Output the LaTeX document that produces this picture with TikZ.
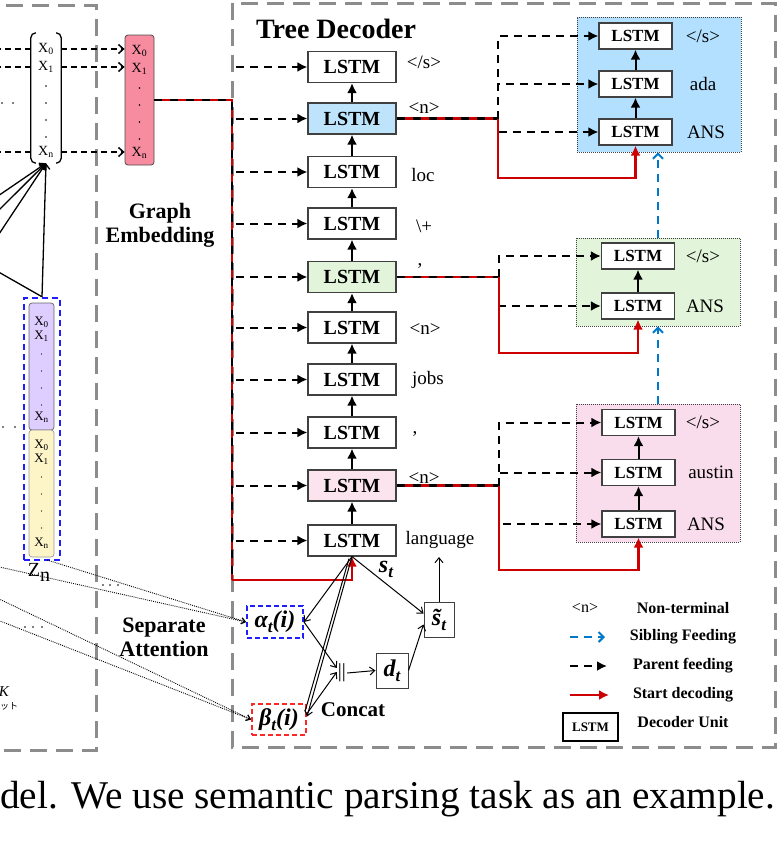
\documentclass[tikz,border=0pt]{standalone}
\usepackage{fontspec}
\setmainfont{Liberation Serif}
\newfontfamily\jpfont{Noto Sans CJK JP}
\usetikzlibrary{arrows.meta,calc}
\definecolor{grayb}{RGB}{140,140,140}
\definecolor{pinkE}{RGB}{247,140,160}
\definecolor{purpleE}{RGB}{222,205,255}
\definecolor{yellowE}{RGB}{253,244,200}
\definecolor{blueM}{RGB}{189,228,250}
\definecolor{greenM}{RGB}{226,245,218}
\definecolor{pinkM}{RGB}{252,228,238}
\definecolor{blueG}{RGB}{179,224,255}
\definecolor{greenG}{RGB}{226,245,218}
\definecolor{pinkG}{RGB}{249,221,236}
\definecolor{redD}{RGB}{204,0,0}
\definecolor{sibB}{RGB}{0,120,200}
\definecolor{attB}{RGB}{30,30,255}
\definecolor{attR}{RGB}{255,40,40}
\newcommand{\bsub}[2]{{\bfseries\itshape #1\raisebox{-5pt}{\fontsize{17}{17}\selectfont #2}}}
\begin{document}
\begin{tikzpicture}[x=1pt,y=-1pt,
  lstm/.style={draw=black!75, line width=1.2pt, fill=white, minimum width=88pt, minimum height=31pt, inner sep=0pt, font=\fontsize{20}{22}\selectfont\bfseries},
  slstm/.style={draw=black!75, line width=1.2pt, fill=white, minimum width=73pt, minimum height=26pt, inner sep=0pt, font=\fontsize{17}{19}\selectfont\bfseries},
  lbl/.style={inner sep=0pt, font=\fontsize{19}{21}\selectfont},
  bold/.style={inner sep=0pt, align=center, font=\fontsize{22}{26}\selectfont\bfseries},
  leg/.style={inner sep=0pt, font=\fontsize{16}{18}\selectfont\bfseries},
  upar/.style={line width=2pt, -{Latex[length=10pt,width=10pt]}},
  pfeed/.style={line width=2pt, dash pattern=on 8pt off 6pt, -{Latex[length=10pt,width=10pt]}},
  rb/.style={draw=redD, line width=2.5pt, postaction={draw=black, line width=2.5pt, dash pattern=on 8pt off 8pt}},
  startd/.style={draw=redD, line width=2.2pt, -{Latex[length=10pt,width=10pt]}},
  sib/.style={draw=sibB, line width=2pt, dash pattern=on 8pt off 6pt, -{Straight Barb[length=5pt,width=10pt]}},
  grp/.style={draw=black!75, dash pattern=on 1pt off 1pt, line width=0.8pt, inner sep=0pt},
  border/.style={draw=grayb, line width=3pt, dash pattern=on 17pt off 9pt},
  xs/.style={inner sep=0pt, font=\fontsize{14}{14}\selectfont},
  xss/.style={inner sep=0pt, font=\fontsize{13}{13}\selectfont},
  xdash/.style={line width=1.5pt, dash pattern=on 6pt off 4pt},
  xarr/.style={line width=1.5pt, dash pattern=on 6pt off 4pt, -{Straight Barb[length=5pt,width=9pt]}},
  thinar/.style={line width=1.3pt, -{Straight Barb[length=5pt,width=8pt]}},
  attar/.style={line width=1pt, -{Straight Barb[length=5pt,width=8pt]}},
  dotline/.style={line width=0.9pt, dash pattern=on 0.9pt off 1.1pt, -{Straight Barb[length=4pt,width=6pt]}},
  mbox/.style={draw=black!75, line width=1pt, inner sep=0pt, font=\fontsize{24}{24}\selectfont}
]
\useasboundingbox (0,0) rectangle (779,844);

% borders
\draw[border] (-20,5) -- (96,5) -- (96,750) -- (-20,750);
\draw[border] (232,3) rectangle (775,747);

% ---------- left part
\node[minimum width=30pt, minimum height=130pt, inner sep=0pt] (brk) at (46,98) {};
\draw[line width=1.3pt] ($(brk.north west)+(5,0)$) arc[start angle=90,end angle=180,radius=5pt] -- ($(brk.south west)+(0,-5)$) arc[start angle=180,end angle=270,radius=5pt];
\draw[line width=1.3pt] ($(brk.north east)+(-5,0)$) arc[start angle=90,end angle=0,radius=5pt] -- ($(brk.south east)+(0,-5)$) arc[start angle=0,end angle=-90,radius=5pt];
\node[xs] (bx0) at (46,49) {X\textsubscript{0}};
\node[xs] (bx1) at (46,67) {X\textsubscript{1}};
\node[xs] (bxn) at (46,152) {X\textsubscript{n}};
\foreach \yy in {86,103,120,137} \fill (46,\yy) circle (0.8pt);

\node[draw=black!70, line width=0.8pt, fill=pinkE, rounded corners=3pt, minimum width=29pt, minimum height=130pt, inner sep=0pt] (emb) at (139.5,100) {};
\node[xs] (ex0) at (139.5,51) {X\textsubscript{0}};
\node[xs] (ex1) at (139.5,69) {X\textsubscript{1}};
\node[xs] (exn) at (139.5,153) {X\textsubscript{n}};
\foreach \yy in {88,105,122,139} \fill (139.5,\yy) circle (0.8pt);

\coordinate (lft) at (-5,0);
\draw[xdash] (bx0 -| lft) -- (bx0 -| brk.west);
\draw[xdash] (bx1 -| lft) -- (bx1 -| brk.west);
\draw[xdash] (bxn -| lft) -- (bxn -| brk.west);
\draw[xarr] (bx0 -| brk.east) -- (bx0 -| emb.west);
\draw[xarr] (bx1 -| brk.east) -- (bx1 -| emb.west);
\draw[xarr] (bxn -| brk.east) -- (bxn -| emb.west);
\fill (2,103) circle (0.9pt); \fill (13,103) circle (0.9pt);

\node[bold] (ge) at (160,225) {Graph\\[-2pt]Embedding};

% purple / yellow stack
\node[draw=attB, line width=2.5pt, dash pattern=on 6pt off 4pt, minimum width=36pt, minimum height=262pt, inner sep=0pt] (zz) at (42,429) {};
\node[draw=black!60, line width=0.7pt, fill=purpleE, rounded corners=3pt, minimum width=25pt, minimum height=127pt, inner sep=0pt] (pur) at (41.5,366.5) {};
\node[draw=black!40, line width=0.7pt, fill=yellowE, rounded corners=3pt, minimum width=25pt, minimum height=127pt, inner sep=0pt] (yel) at (41.5,493.5) {};
\node[xss] (px0) at (41.5,322) {X\textsubscript{0}};
\node[xss] (px1) at (41.5,336) {X\textsubscript{1}};
\node[xss] (pxn) at (41.5,417) {X\textsubscript{n}};
\foreach \yy in {354,371,388,405} \fill (41.5,\yy) circle (0.7pt);
\node[xss] (yx0) at (41.5,445) {X\textsubscript{0}};
\node[xss] (yx1) at (41.5,459) {X\textsubscript{1}};
\node[xss] (yxn) at (41.5,543) {X\textsubscript{n}};
\foreach \yy in {477,494,511,528} \fill (41.5,\yy) circle (0.7pt);
\fill (3,427) circle (0.9pt); \fill (15,427) circle (0.9pt);
\node[inner sep=0pt, font=\fontsize{20}{20}\selectfont] (zn) at (39,572) {Z\raisebox{-5pt}{n}};

% converging lines
\coordinate (s1) at (-5,198);
\coordinate (s2) at (-5,214);
\coordinate (s3) at (-5,240);
\coordinate (s4) at (-5,270);
\draw[thinar] (s1) -- (brk.south);
\draw[thinar] (s2) -- (brk.south);
\draw[thinar] (s3) -- (brk.south);
\draw[line width=1.3pt] (s4) -- (zz.north);
\draw[thinar] (zz.north) -- (brk.south);

% K text at the left edge
\node[anchor=east, inner sep=0pt, font=\fontsize{15}{15}\selectfont\itshape] (kk) at (9,692) {K};
\node[anchor=west, inner sep=0pt, font=\jpfont\fontsize{9}{9}\selectfont] (kt) at (0,706) {ット};

% ---------- tree decoder
\node[inner sep=0pt, font=\fontsize{28}{30}\selectfont\bfseries] (title) at (336,29) {Tree Decoder};

\node[lstm] (m1) at (352,67) {LSTM};
\node[lstm, fill=blueM] (m2) at (352,118.5) {LSTM};
\node[lstm] (m3) at (352,172) {LSTM};
\node[lstm] (m4) at (352,223.5) {LSTM};
\node[lstm, fill=greenM] (m5) at (352,277) {LSTM};
\node[lstm] (m6) at (352,327.5) {LSTM};
\node[lstm] (m7) at (352,379.5) {LSTM};
\node[lstm] (m8) at (352,432.5) {LSTM};
\node[lstm, fill=pinkM] (m9) at (352,485.5) {LSTM};
\node[lstm] (m10) at (352,540.5) {LSTM};

\node[lbl] (l1) at (424,62) {</s>};
\node[lbl] (l2) at (424,108) {<n>};
\node[lbl] (l3) at (423,175) {loc};
\node[lbl] (l4) at (424,226) {\textbackslash+};
\node[lbl] (l5) at (420,266) {,};
\node[lbl] (l6) at (425,329) {<n>};
\node[lbl] (l7) at (428,380) {jobs};
\node[lbl] (l8) at (415,434) {,};
\node[lbl] (l9) at (424,478) {<n>};
\node[lbl] (l10) at (440,540) {language};

\foreach \a/\b in {m10/m9,m9/m8,m8/m7,m7/m6,m6/m5,m5/m4,m4/m3,m3/m2,m2/m1}
  \draw[upar] (\a.north) -- (\b.south);

\coordinate (feedx) at (236,0);
\foreach \m in {m1,m2,m3,m4,m5,m6,m7,m8,m9,m10}
  \draw[pfeed] (feedx |- \m.west) -- (\m.west);

% red/black embedding line
\coordinate (c1) at (232,100);
\coordinate (c2) at (232,580);
\coordinate (c3) at (352,580);
\draw[rb] (emb.east) -- (c1) -- (c2);
\draw[startd] (c2) -- (c3) -- (m10.south);

% groups
\node[grp, fill=blueG, minimum width=164pt, minimum height=135pt] (G1) at (659,84.5) {};
\node[grp, fill=greenG, minimum width=164pt, minimum height=88pt] (G2) at (658,282) {};
\node[grp, fill=pinkG, minimum width=164pt, minimum height=138pt] (G3) at (658,473) {};

\node[slstm] (a1) at (635.5,36) {LSTM};
\node[slstm] (a2) at (635.5,84) {LSTM};
\node[slstm] (a3) at (635.5,132) {LSTM};
\node[lbl] (la1) at (703,36) {</s>};
\node[lbl] (la2) at (703,84) {ada};
\node[lbl] (la3) at (706,132) {ANS};
\draw[upar] (a3.north) -- (a2.south);
\draw[upar] (a2.north) -- (a1.south);

\node[slstm] (g1) at (638,256) {LSTM};
\node[slstm] (g2) at (638,306) {LSTM};
\node[lbl] (lg1) at (703,256) {</s>};
\node[lbl] (lg2) at (705,306) {ANS};
\draw[upar] (g2.north) -- (g1.south);

\node[slstm] (p1) at (638.5,422.5) {LSTM};
\node[slstm] (p2) at (638.5,472.5) {LSTM};
\node[slstm] (p3) at (638.5,524) {LSTM};
\node[lbl] (lp1) at (703,422) {</s>};
\node[lbl] (lp2) at (711,472) {austin};
\node[lbl] (lp3) at (706,524) {ANS};
\draw[upar] (p3.north) -- (p2.south);
\draw[upar] (p2.north) -- (p1.south);

% branch blue
\coordinate (b1) at (498,118.5);
\coordinate (b1d) at (498,178);
\draw[rb] (m2.east) -- (b1);
\draw[pfeed] (b1) |- (a1.west);
\draw[pfeed] (b1) |- (a2.west);
\draw[pfeed] (b1) |- (a3.west);
\draw[startd] (b1) -- (b1d) -| (a3.south);
% branch green
\coordinate (b2) at (499,277);
\coordinate (b2d) at (499,353);
\draw[rb] (m5.east) -- (b2);
\draw[pfeed] (b2) |- (g1.west);
\draw[pfeed] (b2) |- (g2.west);
\draw[startd] (b2) -- (b2d) -| (g2.south);
% branch pink
\coordinate (b3) at (499,485.5);
\coordinate (b3d) at (499,570);
\draw[rb] (m9.east) -- (b3);
\draw[pfeed] (b3) |- (p1.west);
\draw[pfeed] (b3) |- (p2.west);
\draw[pfeed] (b3) |- (p3.west);
\draw[startd] (b3) -- (b3d) -| (p3.south);

% sibling
\coordinate (sibx) at (658,0);
\draw[sib] (G2.north -| sibx) -- (G1.south -| sibx);
\draw[sib] (G3.north -| sibx) -- (G2.south -| sibx);

% ---------- attention
\node[mbox, draw=attB, line width=2pt, dash pattern=on 5pt off 3pt, minimum width=56pt, minimum height=32pt] (al) at (275,622) {\bsub{α}{t}\bfseries\itshape(i)};
\node[mbox, draw=attR, line width=2pt, dash pattern=on 5pt off 3pt, minimum width=54pt, minimum height=31pt] (be) at (279,719.5) {\bsub{β}{t}\bfseries\itshape(i)};
\node[inner sep=1pt, font=\fontsize{20}{20}\selectfont] (cc) at (342,673) {||};
\node[mbox, minimum width=32pt, minimum height=35pt] (dt) at (392,670.5) {\bsub{d}{t}};
\node[mbox, minimum width=30pt, minimum height=35pt] (st) at (439,619.5) {\bsub{\~{s}}{t}};
\node[inner sep=0pt, font=\fontsize{24}{24}\selectfont] (stl) at (386,569) {\bsub{s}{t}};
\coordinate (lang) at (439,557);

\draw[attar] (m10.south) -- (al.east);
\draw[attar] (m10.south) -- ($(be.east)+(0,-3)$);
\draw[line width=1pt] ($(be.east)+(-2,-8)$) -- ($(m10.south)+(-3,2)$);
\draw[attar] (al.east) -- ($(cc.west)+(0,-5)$);
\draw[attar] ($(be.east)+(0,-6)$) -- ($(cc.west)+(0,-1)$);
\draw[attar] (cc.east) -- (dt.west);
\draw[attar] (dt.east) -- ($(st.west)+(0,5)$);
\draw[attar] (m10.south) -- ($(st.west)+(0,-6)$);
\draw[attar] (st.north) -- (lang);

\node[bold] (sa) at (164,637) {Separate\\[-2pt]Attention};
\node[bold, font=\fontsize{21}{24}\selectfont\bfseries] (ct) at (353,710) {Concat};

\coordinate (dl1) at (-5,566);
\coordinate (dl2) at (47,560);
\coordinate (dl3) at (-5,597);
\coordinate (dl4) at (-5,619);
\draw[dotline] (dl1) -- (al.west);
\draw[dotline] (dl2) -- (al.west);
\draw[dotline] (dl3) -- (be.west);
\draw[dotline] (dl4) -- (be.west);
\foreach \xx in {103,110,118} \fill (\xx,585) circle (0.9pt);
\foreach \xx in {25,33,42} \fill (\xx,627) circle (0.9pt);

% ---------- legend
\node[lbl, font=\fontsize{16}{18}\selectfont] (ln) at (585,608) {<n>};
\node[leg] (t1) at (683,608) {Non-terminal};
\coordinate (k1a) at (570,637); \coordinate (k1b) at (605,637);
\draw[sib] (k1a) -- (k1b);
\node[leg] (t2) at (683,637) {Sibling Feeding};
\coordinate (k2a) at (570,666); \coordinate (k2b) at (607,666);
\draw[pfeed] (k2a) -- (k2b);
\node[leg] (t3) at (683,666) {Parent feeding};
\coordinate (k3a) at (570,695); \coordinate (k3b) at (609,695);
\draw[startd] (k3a) -- (k3b);
\node[leg] (t4) at (683,695) {Start decoding};
\node[draw=black, line width=1.2pt, minimum width=55pt, minimum height=28pt, inner sep=0pt, font=\fontsize{13}{13}\selectfont\bfseries] (kl) at (590.5,727) {LSTM};
\node[leg] (t5) at (683,722) {Decoder Unit};

% caption
\node[anchor=base west, inner sep=0pt, font=\fontsize{39.3}{40}\selectfont] (cap) at (0,808) {del. We use semantic parsing task as an example.};
\end{tikzpicture}
\end{document}
